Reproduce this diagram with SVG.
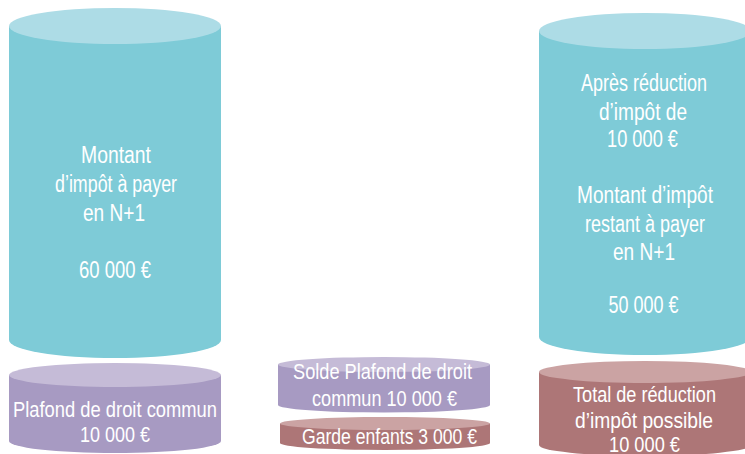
<svg xmlns="http://www.w3.org/2000/svg" width="745" height="454" viewBox="0 0 745 454">
<style>
.t{font-family:"Liberation Sans",Arial,sans-serif;fill:#fff;text-anchor:middle}
.big{font-size:23px}
.sm{font-size:22px}
.tb{fill:#7ECBD7}.tt{fill:#ADDCE6}
.pb{fill:#A79AC2}.pt{fill:#C5BBD7}
.rb{fill:#AD7677}.rt{fill:#CBA3A3}
</style>
<rect width="745" height="454" fill="#fff"/>
<g id="impot-n1">
<path class="tb" d="M9,26 V340 A106,18 0 0 0 221,340 V26 Z"/>
<ellipse class="tt" cx="115" cy="26" rx="106" ry="18"/>
<text class="t big" x="116" y="163" textLength="70" lengthAdjust="spacingAndGlyphs">Montant</text>
<text class="t big" x="116" y="192" textLength="122" lengthAdjust="spacingAndGlyphs">d’impôt à payer</text>
<text class="t big" x="114" y="221" textLength="62" lengthAdjust="spacingAndGlyphs">en N+1</text>
<text class="t big" x="115" y="278" textLength="72" lengthAdjust="spacingAndGlyphs">60 000 €</text>
</g>
<g id="plafond-commun">
<path class="pb" d="M9,375 V441 A106,12 0 0 0 221,441 V375 Z"/>
<ellipse class="pt" cx="115" cy="375" rx="106" ry="12"/>
<text class="t sm" x="115" y="417" textLength="204" lengthAdjust="spacingAndGlyphs">Plafond de droit commun</text>
<text class="t sm" x="115" y="442" textLength="70" lengthAdjust="spacingAndGlyphs">10 000 €</text>
</g>
<g id="solde-plafond">
<path class="pb" d="M278,364.5 V405 A106,7.5 0 0 0 490,405 V364.5 Z"/>
<ellipse class="pt" cx="384" cy="364.5" rx="106" ry="7.5"/>
<text class="t sm" x="382.5" y="379" textLength="179" lengthAdjust="spacingAndGlyphs">Solde Plafond de droit</text>
<text class="t sm" x="384.5" y="406" textLength="145" lengthAdjust="spacingAndGlyphs">commun 10 000 €</text>
</g>
<g id="garde-enfants">
<path class="rb" d="M280,423.5 V443 A105,7 0 0 0 490,443 V423.5 Z"/>
<ellipse class="rt" cx="385" cy="423.5" rx="105" ry="6.5"/>
<text class="t sm" x="389.5" y="444" textLength="175" lengthAdjust="spacingAndGlyphs">Garde enfants 3 000 €</text>
</g>
<g id="apres-reduction">
<path class="tb" d="M539,31 V337 A106,18 0 0 0 751,337 V31 Z"/>
<ellipse class="tt" cx="645" cy="31" rx="106" ry="18"/>
<text class="t big" x="644" y="91" textLength="126" lengthAdjust="spacingAndGlyphs">Après réduction</text>
<text class="t big" x="643" y="120" textLength="88" lengthAdjust="spacingAndGlyphs">d’impôt de</text>
<text class="t big" x="642.5" y="147" textLength="71" lengthAdjust="spacingAndGlyphs">10 000 €</text>
<text class="t big" x="645" y="203" textLength="136" lengthAdjust="spacingAndGlyphs">Montant d’impôt</text>
<text class="t big" x="645" y="232" textLength="120" lengthAdjust="spacingAndGlyphs">restant à payer</text>
<text class="t big" x="644" y="260" textLength="62" lengthAdjust="spacingAndGlyphs">en N+1</text>
<text class="t big" x="643.5" y="313" textLength="70" lengthAdjust="spacingAndGlyphs">50 000 €</text>
</g>
<g id="total-reduction">
<path class="rb" d="M539,372 V445 A106,11 0 0 0 751,445 V372 Z"/>
<ellipse class="rt" cx="645" cy="372" rx="106" ry="11"/>
<text class="t sm" x="644.5" y="402" textLength="143" lengthAdjust="spacingAndGlyphs">Total de réduction</text>
<text class="t sm" x="644" y="428" textLength="138" lengthAdjust="spacingAndGlyphs">d’impôt possible</text>
<text class="t sm" x="644.5" y="452" textLength="71" lengthAdjust="spacingAndGlyphs">10 000 €</text>
</g>
<g id="connectors"/>
</svg>
